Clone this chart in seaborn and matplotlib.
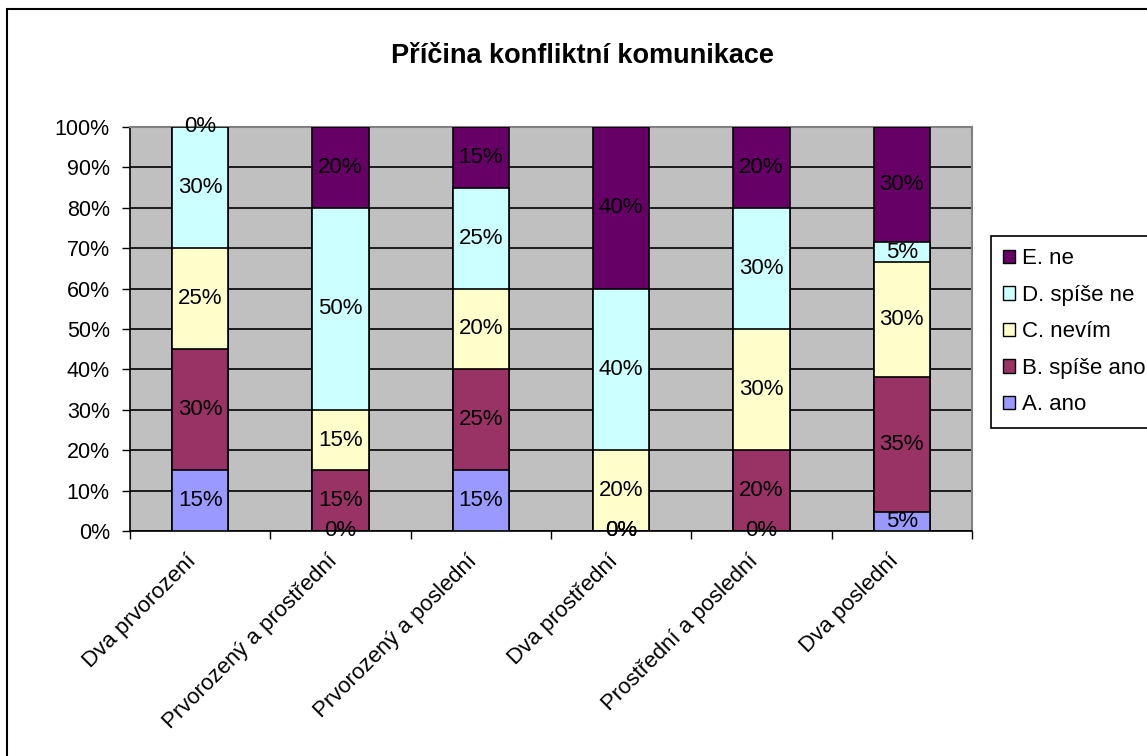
import numpy as np
import pandas as pd
import matplotlib
matplotlib.use('Agg')
import matplotlib.pyplot as plt
import seaborn as sns
from matplotlib.patches import Patch, Rectangle

# ── data ───────────────────────────────────────────────
categories = ['Dva prvorození', 'Prvorozený a prostřední', 'Prvorozený a poslední',
              'Dva prostřední', 'Prostřední a poslední', 'Dva poslední']
series = ['A. ano', 'B. spíše ano', 'C. nevím', 'D. spíše ne', 'E. ne']
a_ano = [15, 0, 15, 0, 0, 5]
b_spise_ano = [30, 15, 25, 0, 20, 35]
c_nevim = [25, 15, 20, 20, 30, 30]
d_spise_ne = [30, 50, 25, 40, 30, 5]
e_ne = [0, 20, 15, 40, 20, 30]
colors = ['#9999FF', '#993366', '#FFFFCC', '#CCFFFF', '#660066']

df = pd.DataFrame({'A. ano': a_ano, 'B. spíše ano': b_spise_ano, 'C. nevím': c_nevim,
                   'D. spíše ne': d_spise_ne, 'E. ne': e_ne}, index=categories)
# 100 % stacked: heights normalised, labels keep raw values
share = df.div(df.sum(axis=1), axis=0) * 100
cum = share.cumsum(axis=1)

sns.set_style('white')
plt.rcParams['font.family'] = ['Liberation Sans', 'DejaVu Sans']
plt.rcParams['text.color'] = 'black'
plt.rcParams['xtick.color'] = 'black'
plt.rcParams['ytick.color'] = 'black'

fig = plt.figure(figsize=(11.47, 7.56), dpi=100)
ax = fig.add_axes([130 / 1147, 1 - 531 / 756, 842 / 1147, 404 / 756])
ax.set_facecolor('#C0C0C0')

# draw from the top segment down so each bar covers the lower part of the previous one
for s, c in reversed(list(zip(series, colors))):
    sns.barplot(x=categories, y=cum[s].values, color=c, width=0.4, order=categories,
                edgecolor='black', linewidth=1.2, saturation=1, ax=ax, zorder=3)

# data labels
for i, cat in enumerate(categories):
    bottom = 0
    for s in series:
        h = share.loc[cat, s]
        ax.text(i, bottom + h / 2, f'{df.loc[cat, s]}%', ha='center', va='center',
                fontsize=16, color='black', zorder=5)
        bottom += h

ax.set_xlim(-0.5, 5.5)
ax.set_ylim(0, 100)
ax.set_yticks(np.arange(0, 101, 10))
ax.set_yticklabels([f'{v}%' for v in range(0, 101, 10)], fontsize=15.5)
ax.yaxis.grid(True, color='black', linewidth=1.2, zorder=1)
ax.set_axisbelow(True)

# ticks between categories, rotated labels (invisible minor ticks, nudged left like Excel)
ax.set_xticks(np.arange(-0.5, 6, 1))
ax.set_xticklabels([])
ax.set_xticks(np.arange(6) - 0.1, minor=True)
ax.set_xticklabels(categories, minor=True, rotation=45, ha='right', va='top',
                   rotation_mode='anchor', fontsize=16)
ax.tick_params(axis='x', which='minor', length=0, pad=14)
ax.tick_params(axis='x', which='major', direction='out', length=6, width=1, color='black', bottom=True)
ax.tick_params(axis='y', direction='out', length=6, width=1, color='black', left=True, pad=8.5)
ax.set_xlabel('')
ax.set_ylabel('')

for side in ['top', 'right']:
    ax.spines[side].set_color('#808080')
    ax.spines[side].set_linewidth(1.5)
for side in ['left', 'bottom']:
    ax.spines[side].set_color('black')
    ax.spines[side].set_linewidth(1.2)

fig.text(582 / 1147, 1 - 56 / 756, 'Příčina konfliktní komunikace', ha='center', va='center',
         fontsize=19.5, fontweight='bold', color='black')

handles = [Patch(facecolor=c, edgecolor='black', label=s)
           for s, c in reversed(list(zip(series, colors)))]
leg = fig.legend(handles=handles, loc='upper left', bbox_to_anchor=(991 / 1147, 1 - 236 / 756),
                 fontsize=16, frameon=True, fancybox=False, framealpha=1, edgecolor='black',
                 handlelength=0.55, handleheight=0.55, handletextpad=0.3, labelspacing=0.7,
                 borderpad=0.55, borderaxespad=0)
leg.get_frame().set_linewidth(1.2)

fig.patches.append(Rectangle((7 / 1147, -0.05), 1.1, 1.05 - 9 / 756, transform=fig.transFigure,
                             fill=False, edgecolor='black', linewidth=1.5))

fig.savefig('out.png', dpi=100)
